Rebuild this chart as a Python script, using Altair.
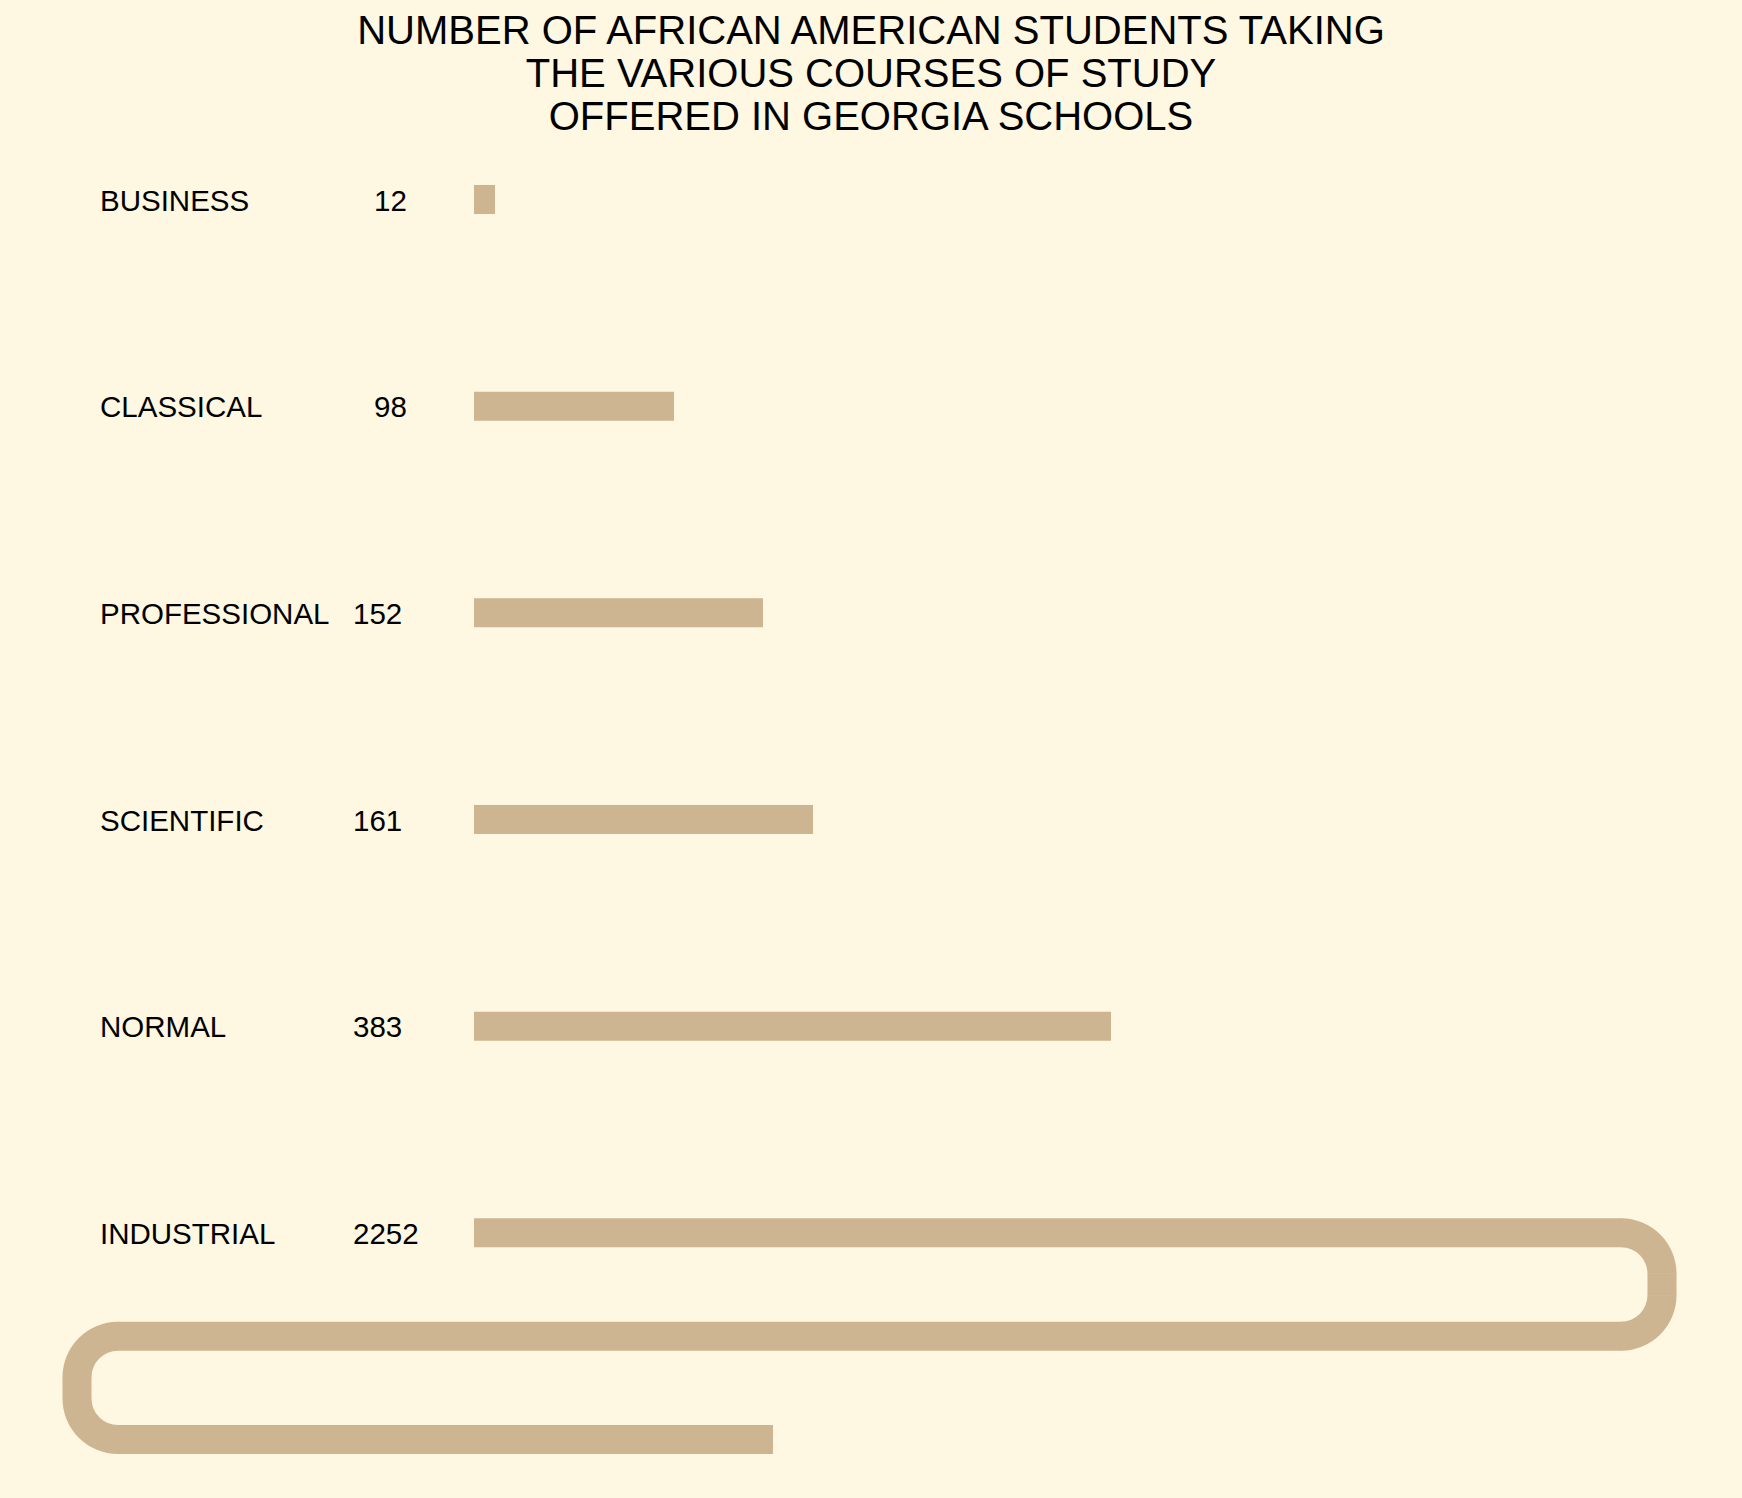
import math
import altair as alt
import pandas as pd

# ---------------- data read from the plate ----------------
title_lines = [
    "NUMBER OF AFRICAN AMERICAN STUDENTS TAKING",
    "THE VARIOUS COURSES OF STUDY",
    "OFFERED IN GEORGIA SCHOOLS",
]
courses = ["BUSINESS", "CLASSICAL", "PROFESSIONAL", "SCIENTIFIC", "NORMAL", "INDUSTRIAL"]
students = [12, 98, 152, 161, 383, 2252]
# drawn length of each straight bar on the plate (drawing units from the bar origin)
drawn_length = [21, 200, 289, 339, 637]
# the industrial bar winds back and forth: right turn, left turn, final end (drawing units)
spiral_right = 1188
spiral_left = -397
spiral_end = 299

# ---------------- styling ----------------
BG = "#FEF7E1"
BAR = "#CEB591"
FONT = "Liberation Sans"
W, TOP, H = 1742, 150, 1348
ROW_PX = 206.67          # vertical distance between rows, px
ROW0_PX = 49.5           # first row centre below the plot top, px
X0_PX = 474              # bar origin, px from the left edge
BAR_W = 29
R = 41                   # centre-line radius of the turns, px
ry = R / ROW_PX          # the same radius in row units

xscale = alt.Scale(domain=[-X0_PX, W - X0_PX], range=[0, W], nice=False, zero=False)
yscale = alt.Scale(domain=[-ROW0_PX / ROW_PX, (H - ROW0_PX) / ROW_PX],
                   range=[0, H], nice=False, zero=False)

n = len(courses)
rows = list(range(n))
bars = pd.DataFrame({"course": courses[:5], "row": rows[:5],
                     "x": [0] * 5, "x2": drawn_length})

r5, r55, r6 = n - 1, n - 0.5, n
segs = pd.DataFrame({
    "x":  [0, spiral_left + R - 1, spiral_left + R - 1, spiral_right, spiral_left],
    "x2": [spiral_right - R + 1, spiral_right - R + 1, spiral_end, spiral_right, spiral_left],
    "y":  [r5, r55, r6, r5 + ry - 0.003, r55 + ry - 0.003],
    "y2": [r5, r55, r6, r55 - ry + 0.003, r6 - ry + 0.003],
})
arcs = pd.DataFrame({
    "x": [spiral_right - R, spiral_right - R, spiral_left + R, spiral_left + R],
    "y": [r5 + ry, r55 - ry, r55 + ry, r6 - ry],
    "t1": [0, math.pi / 2, 3 * math.pi / 2, math.pi],
    "t2": [math.pi / 2, math.pi, 2 * math.pi, 3 * math.pi / 2],
})
labels = pd.DataFrame({"course": courses, "row": rows,
                       "value": students,
                       "num": [str(v) for v in students]})

X = lambda f: alt.X(f, type="quantitative", scale=xscale, axis=None)
Y = lambda f: alt.Y(f, type="quantitative", scale=yscale, axis=None)

bar_layer = alt.Chart(bars).mark_rule(strokeWidth=BAR_W, strokeCap="butt", color=BAR).encode(
    x=X("x"), x2="x2", y=Y("row"))
seg_layer = alt.Chart(segs).mark_rule(strokeWidth=BAR_W, strokeCap="butt", color=BAR).encode(
    x=X("x"), x2="x2", y=Y("y"), y2="y2")
arc_layer = alt.Chart(arcs).mark_arc(radius=R + BAR_W / 2, radius2=R - BAR_W / 2, color=BAR).encode(
    x=X("x"), y=Y("y"),
    theta=alt.Theta("t1:Q", scale=None), theta2="t2")

text_style = dict(baseline="middle", fontSize=29.5, font=FONT, color="black", dy=2)
name_layer = alt.Chart(labels).mark_text(align="left", **text_style).encode(
    x=alt.datum(-374, type="quantitative", scale=xscale), y=Y("row"), text="course:N")
# three- and four-figure numbers share a left edge; two-figure ones sit further right
num_layer_big = alt.Chart(labels).transform_filter("datum.value >= 100").mark_text(
    align="left", **text_style).encode(
    x=alt.datum(-121, type="quantitative", scale=xscale), y=Y("row"), text="num:N")
num_layer_small = alt.Chart(labels).transform_filter("datum.value < 100").mark_text(
    align="left", **text_style).encode(
    x=alt.datum(-100, type="quantitative", scale=xscale), y=Y("row"), text="num:N")

chart = alt.layer(bar_layer, seg_layer, arc_layer, name_layer,
                  num_layer_big, num_layer_small).properties(
    width=W, height=H,
    autosize="none",
    padding={"top": TOP, "left": 0, "right": 0, "bottom": 0},
    title=alt.Title(title_lines, fontSize=40, lineHeight=43, font=FONT, fontWeight="normal",
                    color="black", anchor="middle", frame="group", offset=12),
).configure(background=BG).configure_view(stroke=None)

chart.save("out.html", embed_options={"renderer": "svg", "actions": False})
